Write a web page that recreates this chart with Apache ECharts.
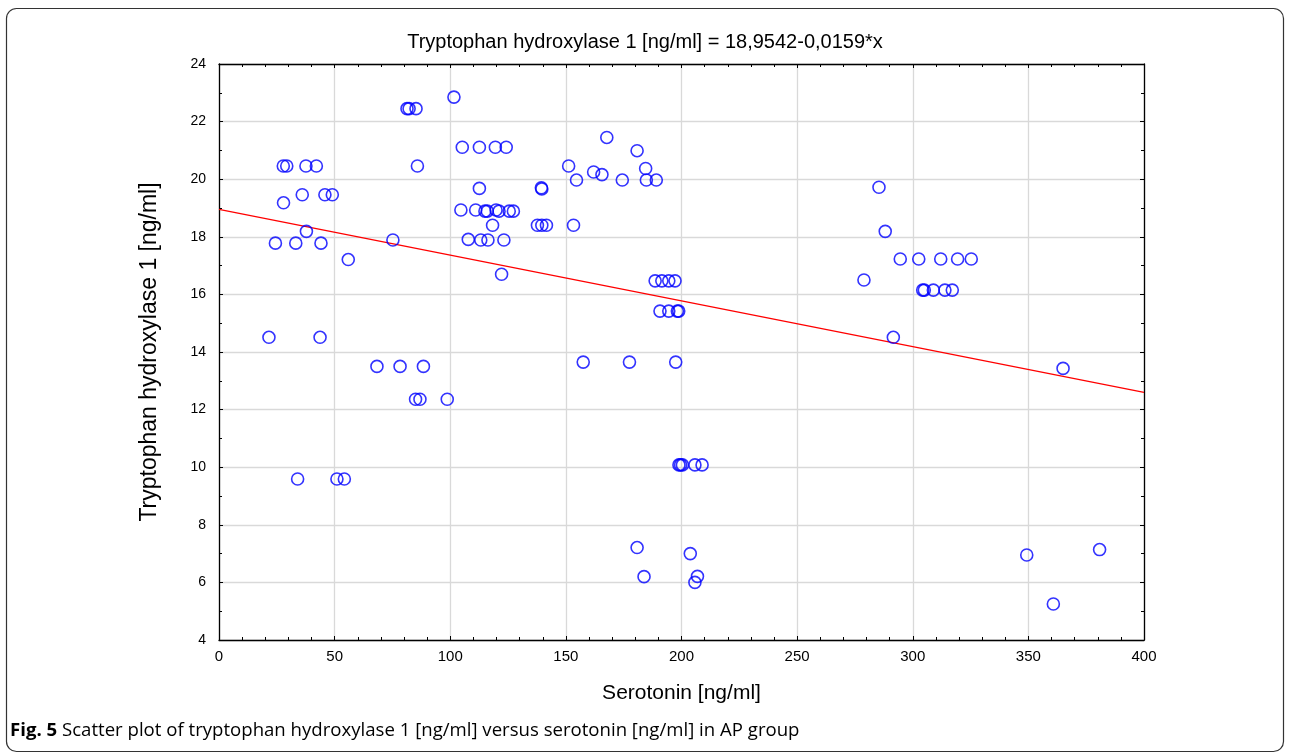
<!DOCTYPE html>
<html>
<head>
<meta charset="utf-8">
<script src="https://cdn.jsdelivr.net/npm/echarts@6/dist/echarts.min.js"></script>
<style>
  html, body { margin: 0; padding: 0; background: #fff; }
  #chart { width: 1290px; height: 754px; }
</style>
</head>
<body>
<div id="chart"></div>
<script>
// serotonin [ng/ml] (x) and tryptophan hydroxylase 1 [ng/ml] (y)
var serotonin = [
  101.6, 81.3, 82.2, 85.2, 105.2, 112.6, 119.5, 124.2, 27.8, 29.3,
  37.6, 42.1, 85.8, 112.6, 36.0, 45.8, 49.0, 27.9, 104.6, 111.0,
  115.0, 116.0, 119.8, 121.1, 125.5, 127.3, 118.3, 37.8, 24.4, 33.2,
  44.1, 75.2, 107.8, 113.2, 116.3, 123.2, 55.9, 122.2, 21.6, 43.7,
  68.3, 78.3, 88.4, 85.0, 86.9, 98.7, 34.0, 51.0, 54.2, 167.7,
  180.8, 151.2, 184.5, 162.0, 165.6, 154.6, 174.4, 184.8, 189.1, 139.4,
  139.6, 137.7, 139.6, 141.6, 153.3, 188.6, 191.5, 194.5, 197.2, 190.7,
  194.5, 198.2, 198.8, 157.5, 177.5, 197.5, 198.9, 199.6, 200.4, 205.8,
  208.9, 180.8, 203.8, 183.8, 206.9, 205.8, 285.4, 288.1, 294.6, 302.6,
  312.1, 319.4, 325.3, 278.9, 304.3, 305.0, 308.9, 313.9, 317.1, 291.6,
  365.0, 349.3, 380.8, 360.8
];
var tph1 = [
  22.85, 22.45, 22.45, 22.45, 21.11, 21.11, 21.11, 21.11, 20.46, 20.46,
  20.46, 20.46, 20.46, 19.68, 19.46, 19.46, 19.46, 19.18, 18.93, 18.93,
  18.89, 18.89, 18.93, 18.89, 18.89, 18.89, 18.40, 18.19, 17.78, 17.78,
  17.78, 17.89, 17.91, 17.89, 17.89, 17.89, 17.21, 16.70, 14.51, 14.51,
  13.50, 13.50, 13.50, 12.36, 12.36, 12.36, 9.59, 9.59, 9.59, 21.45,
  20.99, 20.46, 20.37, 20.25, 20.16, 19.97, 19.97, 19.97, 19.97, 19.70,
  19.66, 18.40, 18.40, 18.40, 18.40, 16.47, 16.47, 16.47, 16.47, 15.42,
  15.42, 15.42, 15.42, 13.65, 13.65, 13.65, 10.08, 10.08, 10.08, 10.08,
  10.08, 7.21, 7.00, 6.20, 6.21, 6.00, 19.72, 18.19, 17.23, 17.23,
  17.23, 17.23, 17.23, 16.50, 16.15, 16.15, 16.15, 16.15, 16.15, 14.51,
  13.43, 6.95, 7.14, 5.25
];
// fitted line from the title: y = 18,9542 - 0,0159*x
var fitIntercept = 18.9542;
var fitSlope = -0.0159;
var xRange = [0, 400];
var yRange = [4, 24];

var points = serotonin.map(function (x, i) { return [x, tph1[i]]; });
var fitLine = xRange.map(function (x) { return [x, fitIntercept + fitSlope * x]; });

var font = 'Liberation Sans, Arial, sans-serif';
var myChart = echarts.init(document.getElementById('chart'));

var boxAxis = {
  axisLine: { show: true, onZero: false, lineStyle: { color: '#000', width: 1.3 } },
  axisTick: { show: true, inside: true, length: 4, lineStyle: { color: '#000' } },
  minorTick: { show: true, length: 3, lineStyle: { color: '#000' } },
  axisLabel: { show: false },
  splitLine: { show: false }
};

var option = {
  backgroundColor: '#fff',
  animation: false,
  title: {
    text: 'Tryptophan hydroxylase 1 [ng/ml] = 18,9542-0,0159*x',
    left: 'center',
    top: 27,
    textStyle: { fontFamily: font, fontWeight: 'normal', fontSize: 20, color: '#000' }
  },
  grid: { left: 219, top: 64, right: 146, bottom: 114 },
  xAxis: [
    Object.assign({}, boxAxis, {
      type: 'value', min: xRange[0], max: xRange[1], interval: 50,
      position: 'bottom',
      minorTick: { show: true, splitNumber: 5, length: 3, lineStyle: { color: '#000' } },
      axisLabel: { show: true, margin: 9, fontFamily: font, fontSize: 15, color: '#000' },
      splitLine: { show: true, lineStyle: { color: '#d9d9d9', width: 1.3 } },
      name: 'Serotonin [ng/ml]',
      nameLocation: 'middle',
      nameGap: 43,
      nameTextStyle: { fontFamily: font, fontSize: 21, color: '#000' }
    }),
    Object.assign({}, boxAxis, {
      type: 'value', min: xRange[0], max: xRange[1], interval: 50,
      position: 'top',
      minorTick: { show: true, splitNumber: 5, length: 3, lineStyle: { color: '#000' } }
    })
  ],
  yAxis: [
    Object.assign({}, boxAxis, {
      type: 'value', min: yRange[0], max: yRange[1], interval: 2,
      position: 'left',
      minorTick: { show: true, splitNumber: 2, length: 3, lineStyle: { color: '#000' } },
      axisLabel: { show: true, margin: 13, fontFamily: font, fontSize: 14, color: '#000' },
      splitLine: { show: true, lineStyle: { color: '#d9d9d9', width: 1.3 } },
      name: 'Tryptophan hydroxylase 1 [ng/ml]',
      nameLocation: 'middle',
      nameGap: 58,
      nameTextStyle: { fontFamily: font, fontSize: 23, color: '#000' }
    }),
    Object.assign({}, boxAxis, {
      type: 'value', min: yRange[0], max: yRange[1], interval: 2,
      position: 'right',
      minorTick: { show: true, splitNumber: 2, length: 3, lineStyle: { color: '#000' } }
    })
  ],
  series: [
    {
      type: 'line',
      data: fitLine,
      symbol: 'none',
      silent: true,
      lineStyle: { color: '#ff0000', width: 1.3 },
      z: 2
    },
    {
      type: 'scatter',
      data: points,
      symbol: 'circle',
      symbolSize: 12,
      itemStyle: { color: 'rgba(0,0,0,0)', borderColor: '#0000ff', borderWidth: 1.6 },
      z: 3
    }
  ],
  graphic: [
    {
      type: 'rect',
      shape: { x: 6.5, y: 8.5, width: 1277, height: 743, r: 10 },
      style: { fill: 'none', stroke: '#333', lineWidth: 1.2 },
      z: -1
    },
    {
      type: 'text',
      left: 10,
      top: 721,
      style: {
        text: '{b|Fig. 5} Scatter plot of tryptophan hydroxylase 1 [ng/ml] versus serotonin [ng/ml] in AP group',
        font: '18.6px "Open Sans", sans-serif',
        fill: '#000',
        rich: {
          b: { fontWeight: 'bold', fontFamily: 'Open Sans', fontSize: 18.6, fill: '#000' }
        }
      }
    }
  ]
};

myChart.setOption(option);
</script>
</body>
</html>
